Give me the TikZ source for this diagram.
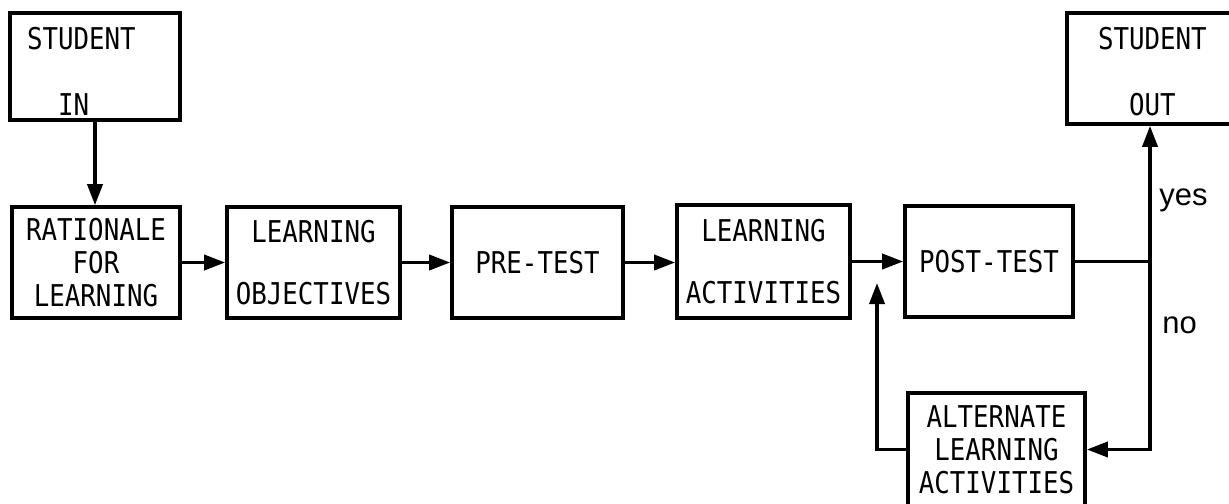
\documentclass[tikz,border=0pt]{standalone}
\usepackage{fontspec}
\newfontfamily\boxfont[FakeStretch=0.86]{DejaVu Sans Mono}
\newfontfamily\lblfont{Liberation Sans}
\usetikzlibrary{arrows.meta,calc}
\begin{document}
\begin{tikzpicture}[x=0.5pt,y=-0.5pt,
  box/.style={draw, line width=1.8pt, inner sep=0pt, align=center,
    font=\boxfont\fontsize{15}{16.5}\selectfont},
  conn/.style={line width=1.8pt},
  arr/.style={conn, -{Triangle[length=10.5pt,width=7.5pt]}},
  lbl/.style={font=\lblfont\fontsize{15.5}{18}\selectfont, inner sep=0pt}]
\useasboundingbox (0,0) rectangle (1229,503);

% boxes
\node[box, align=left, text width=68pt, inner xsep=8.5pt, minimum height=53.5pt]
  (sin) at (95,66.5) {\rule{0pt}{15.5pt}STUDENT\\[16.5pt]\hphantom{XX}IN};
\node[box, minimum width=84pt, minimum height=55.5pt] (rat) at (96,262.5)
  {RATIONALE\\FOR\\LEARNING};
\node[box, minimum width=86.5pt, minimum height=55.5pt] (lo) at (313.5,262.5)
  {LEARNING\\[14.5pt]OBJECTIVES};
\node[box, minimum width=85.5pt, minimum height=55.5pt] (pre) at (537.5,262.5)
  {PRE-TEST};
\node[box, minimum width=86.5pt, minimum height=56.5pt] (la) at (763.5,261.5)
  {LEARNING\\[14.5pt]ACTIVITIES};
\node[box, minimum width=84pt, minimum height=55.5pt] (post) at (989,261.5)
  {POST-TEST};
\node[box, align=left, text width=58pt, inner xsep=15.5pt, minimum height=55.5pt]
  (sout) at (1156,68.5) {\rule{0pt}{14pt}STUDENT\\[16.5pt]\hphantom{XX}OUT};
\node[box, minimum width=88.5pt, minimum height=56.5pt] (alt) at (996.5,449.5)
  {ALTERNATE\\LEARNING\\ACTIVITIES};

% connectors
\coordinate (j) at (1150,261.5);
\coordinate (r) at (877,283);
\draw[arr] (sin.south) -- (sin.south |- rat.north);
\draw[arr] (rat.east) -- (lo.west);
\draw[arr] (lo.east) -- (pre.west);
\draw[arr] (pre.east) -- (pre.east -| la.west);
\draw[arr] (la.east) -- (la.east -| post.west);
\draw[arr] (j) -- (j |- sout.south);
\draw[arr] (post.east) -- (j) -- (j |- alt.east) -- (alt.east);
\draw[arr] (alt.west) -| (r);

% labels
\node[lbl, anchor=base west] (yes) at (1159,205) {yes};
\node[lbl, anchor=base west] (no) at (1162,333) {no};
\end{tikzpicture}
\end{document}
